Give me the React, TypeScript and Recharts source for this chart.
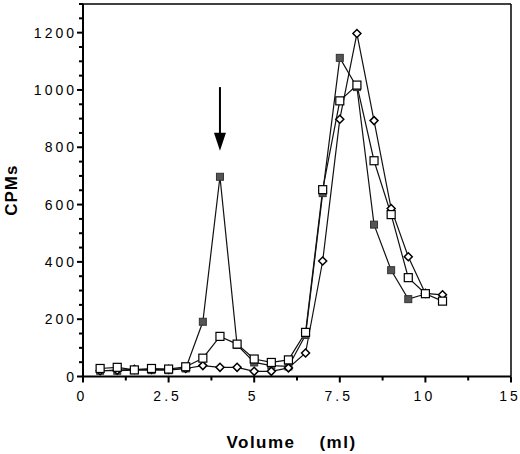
import {
    LineChart,
    Line,
    XAxis,
    YAxis,
    ReferenceLine,
    ReferenceDot,
} from 'recharts';

// fraction volumes (ml)
const volumes = [0.5, 1, 1.5, 2, 2.5, 3, 3.5, 4, 4.5, 5, 5.5, 6, 6.5, 7, 7.5, 8, 8.5, 9, 9.5, 10, 10.5];

// CPMs per series
const filledSquares = [20, 20, 22, 22, 22, 28, 191, 697, 110, 49, 38, 35, 145, 640, 1112, 1010, 530, 371, 270, 288];
const openSquares = [28, 32, 23, 28, 26, 34, 64, 140, 113, 61, 49, 58, 154, 652, 962, 1017, 753, 565, 345, 289, 263];
const diamonds = [20, 22, 25, 25, 25, 28, 38, 32, 32, 18, 18, 30, 82, 403, 898, 1197, 893, 586, 418, 290, 285];

const xTicks = [0, 1.25, 2.5, 3.75, 5, 6.25, 7.5, 8.75, 10, 11.25, 12.5];
const xMajorTicks = [0, 2.5, 5, 7.5, 10, 12.5];
const xTickLabels = ['0', '2.5', '5', '7.5', '10', '15'];

const yTicks = [0, 50, 100, 150, 200, 250, 300, 350, 400, 450, 500, 550, 600, 650, 700, 750, 800, 850, 900, 950, 1000, 1050, 1100, 1150, 1200, 1250, 1300];
const yMajorTicks = [0, 200, 400, 600, 800, 1000, 1200];

// arrow marking the peak at 4 ml
const arrowX = 4;
const arrowTop = 1010;
const arrowTip = 788;

const data = volumes.map((v, i) => ({
    volume: v,
    filled: filledSquares[i],
    open: openSquares[i],
    diamond: diamonds[i],
}));

const FONT = '"Liberation Sans", Arial, sans-serif';

function XTick(props: any) {
    const x = Number(props.x);
    const y = Number(props.y);
    const idx = xMajorTicks.indexOf(props.payload.value);
    const len = idx >= 0 ? 6 : 4;
    return (
        <g>
            <rect x={x - 1} y={y} width={2} height={len} fill="#000" />
            {idx >= 0 && (
                <text x={x - 1} y={y + 24} textAnchor="middle" fontFamily={FONT} fontSize={14} letterSpacing={3} fill="#000">
                    {xTickLabels[idx]}
                </text>
            )}
        </g>
    );
}

function YTick(props: any) {
    const x = Number(props.x);
    const y = Number(props.y);
    const major = yMajorTicks.includes(props.payload.value);
    const len = major ? 6 : 4;
    return (
        <g>
            <rect x={x - len} y={y - 1} width={len} height={2} fill="#000" />
            {major && (
                <text x={x - 6} y={y + 5} textAnchor="end" fontFamily={FONT} fontSize={14} letterSpacing={3} fill="#000">
                    {props.payload.value}
                </text>
            )}
        </g>
    );
}

const filledDot = (p: any) =>
    p.value == null || p.cy == null ? (
        <g key={`f-${p.index}`} />
    ) : (
        <rect key={`f-${p.index}`} x={p.cx - 3.5} y={p.cy - 3.5} width={7} height={7} fill="#555" stroke="#333" strokeWidth={1} />
    );

const openDot = (p: any) => (
    <rect key={`o-${p.index}`} x={p.cx - 4} y={p.cy - 4} width={8} height={8} fill="#fff" stroke="#000" strokeWidth={1.2} />
);

const diamondDot = (p: any) => (
    <polygon
        key={`d-${p.index}`}
        points={`${p.cx},${p.cy - 4} ${p.cx + 4},${p.cy} ${p.cx},${p.cy + 4} ${p.cx - 4},${p.cy}`}
        fill="#fff"
        stroke="#000"
        strokeWidth={1.5}
    />
);

const arrowHead = (p: any) => (
    <polygon points={`${p.cx - 6},${p.cy - 18} ${p.cx + 6},${p.cy - 18} ${p.cx},${p.cy}`} fill="#000" />
);

export default function App() {
    return (
        <div style={{ position: 'absolute', left: 0, top: 0, background: '#fff' }}>
            <LineChart width={520} height={454} data={data} margin={{ top: 3, right: 8, bottom: 0, left: 0 }}>
                <XAxis
                    dataKey="volume"
                    type="number"
                    domain={[0, 12.5]}
                    ticks={xTicks}
                    interval={0}
                    tick={XTick}
                    tickSize={0}
                    tickMargin={0}
                    tickLine={false}
                    axisLine={{ stroke: '#000', strokeWidth: 2 }}
                    height={77.5}
                    label={{
                        content: (p: any) => {
                            const vb = p.viewBox;
                            const cx = vb.x + vb.width / 2;
                            return (
                                <g fontFamily={FONT} fontSize={17} fontWeight="bold" letterSpacing={1.5} fill="#000">
                                    <text x={cx - 36} y={448} textAnchor="middle">Volume</text>
                                    <text x={cx + 41} y={448} textAnchor="middle">(ml)</text>
                                </g>
                            );
                        },
                    }}
                />
                <XAxis xAxisId="top" orientation="top" type="number" domain={[0, 12.5]} height={1} tick={false} tickLine={false} axisLine={{ stroke: '#000', strokeWidth: 1.5 }} />
                <YAxis
                    type="number"
                    domain={[0, 1300]}
                    ticks={yTicks}
                    interval={0}
                    tick={YTick}
                    tickSize={0}
                    tickMargin={0}
                    tickLine={false}
                    axisLine={{ stroke: '#000', strokeWidth: 2 }}
                    width={83}
                    label={{
                        content: (p: any) => {
                            const vb = p.viewBox;
                            const cy = vb.y + vb.height / 2;
                            return (
                                <text
                                    x={17}
                                    y={cy}
                                    transform={`rotate(-90, 17, ${cy})`}
                                    textAnchor="middle"
                                    fontFamily={FONT}
                                    fontSize={17}
                                    fontWeight="bold"
                                    letterSpacing={1}
                                    fill="#000"
                                >
                                    CPMs
                                </text>
                            );
                        },
                    }}
                />
                <YAxis yAxisId="right" orientation="right" domain={[0, 1300]} width={1} tick={false} tickLine={false} axisLine={{ stroke: '#000', strokeWidth: 1.5 }} />

                <Line dataKey="filled" type="linear" stroke="#111" strokeWidth={1.2} dot={filledDot} activeDot={false} isAnimationActive={false} />
                <Line dataKey="diamond" type="linear" stroke="#111" strokeWidth={1.2} dot={diamondDot} activeDot={false} isAnimationActive={false} />
                <Line dataKey="open" type="linear" stroke="#111" strokeWidth={1.2} dot={openDot} activeDot={false} isAnimationActive={false} />

                <ReferenceLine segment={[{ x: arrowX, y: arrowTop }, { x: arrowX, y: arrowTip + 40 }]} stroke="#000" strokeWidth={2} />
                <ReferenceDot x={arrowX} y={arrowTip} shape={arrowHead} />
            </LineChart>
        </div>
    );
}
